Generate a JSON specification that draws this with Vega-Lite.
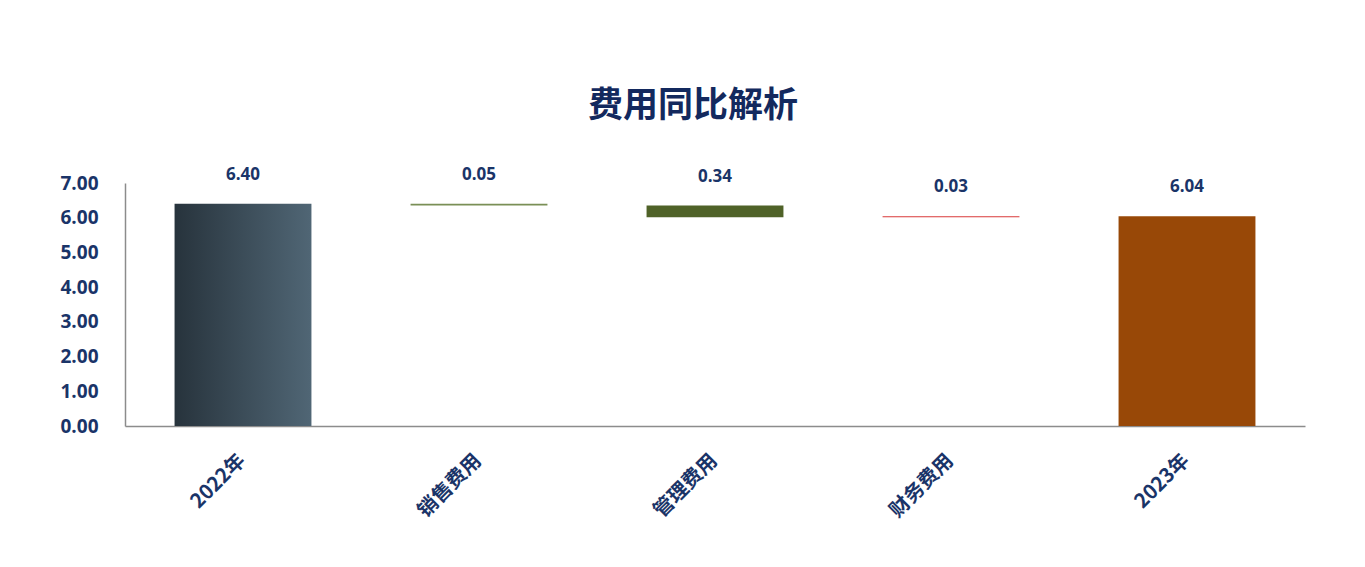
{
  "$schema": "https://vega.github.io/schema/vega-lite/v6.json",
  "width": 1180,
  "height": 243,
  "autosize": {"type": "none"},
  "padding": {"left": 125, "top": 183, "right": 60, "bottom": 141},
  "background": "white",
  "config": {"view": {"stroke": null}},
  "title": {
    "text": "费用同比解析",
    "font": "Noto Sans CJK SC",
    "fontSize": 35,
    "fontWeight": "bold",
    "color": "#13295E",
    "anchor": "middle",
    "dx": -22,
    "offset": 42
  },
  "data": {
    "values": [
      {"category": "2022年", "low": 0, "high": 6.40, "amount": 6.40, "kind": "total1"},
      {"category": "销售费用", "low": 6.35, "high": 6.40, "amount": 0.05, "kind": "sales"},
      {"category": "管理费用", "low": 6.01, "high": 6.35, "amount": 0.34, "kind": "admin"},
      {"category": "财务费用", "low": 6.01, "high": 6.04, "amount": 0.03, "kind": "finance"},
      {"category": "2023年", "low": 0, "high": 6.04, "amount": 6.04, "kind": "total2"}
    ]
  },
  "encoding": {
    "x": {
      "field": "category",
      "type": "nominal",
      "sort": null,
      "scale": {"paddingInner": 0.42, "paddingOuter": 0.21},
      "axis": {
        "title": null,
        "labelAngle": -45,
        "labelFont": "Noto Sans CJK SC",
        "labelFontSize": 20,
        "labelFontWeight": "bold",
        "labelColor": "#1A3468",
        "labelPadding": 24,
        "labelOffset": -8,
        "labelOverlap": false,
        "ticks": false,
        "domainColor": "#8C8C8C",
        "domainWidth": 1.5
      }
    },
    "y": {
      "field": "high",
      "type": "quantitative",
      "scale": {"domain": [0, 7], "nice": false},
      "axis": {
        "title": null,
        "values": [0, 1, 2, 3, 4, 5, 6, 7],
        "format": ".2f",
        "grid": false,
        "ticks": false,
        "labelOverlap": false,
        "labelFont": "Open Sans",
        "labelFontSize": 19,
        "labelFontWeight": "bold",
        "labelColor": "#1A3468",
        "labelPadding": 27,
        "domainColor": "#8C8C8C",
        "domainWidth": 1.5
      }
    }
  },
  "layer": [
    {
      "transform": [{"filter": "datum.kind == 'total1'"}],
      "mark": {
        "type": "bar",
        "color": {
          "gradient": "linear",
          "x1": 0, "x2": 1, "y1": 0, "y2": 0,
          "stops": [
            {"offset": 0, "color": "#27333C"},
            {"offset": 1, "color": "#506675"}
          ]
        }
      },
      "encoding": {
        "y2": {"field": "low"}
      }
    },
    {
      "transform": [{"filter": "datum.kind != 'total1'"}],
      "mark": {"type": "bar"},
      "encoding": {
        "y2": {"field": "low"},
        "color": {
          "field": "kind",
          "type": "nominal",
          "scale": {
            "domain": ["sales", "admin", "finance", "total2"],
            "range": ["#7A8F56", "#4F6228", "#D93A3A", "#984807"]
          },
          "legend": null
        }
      }
    },
    {
      "mark": {
        "type": "text",
        "dy": -29,
        "baseline": "middle",
        "font": "Open Sans",
        "fontSize": 17,
        "fontWeight": "bold",
        "color": "#1A3468"
      },
      "encoding": {
        "text": {"field": "amount", "type": "quantitative", "format": ".2f"}
      }
    }
  ]
}
